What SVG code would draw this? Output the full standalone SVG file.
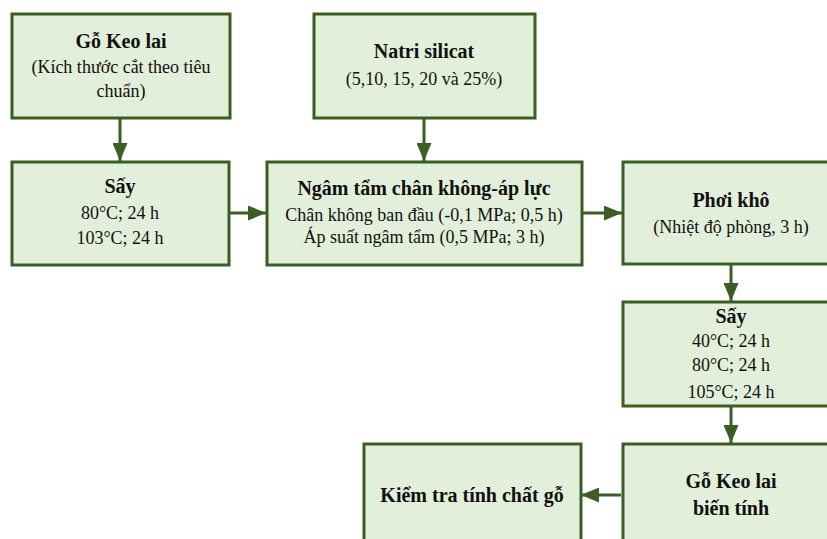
<svg xmlns="http://www.w3.org/2000/svg" width="827" height="539" viewBox="0 0 827 539">
<defs>
<style>
.box{fill:#e2efda;stroke:#3b5e25;stroke-width:3}
.t{font-family:"Liberation Serif","Times New Roman",serif;font-size:18px;fill:#111;text-anchor:middle}
.b{font-weight:bold;font-size:20px}
.c{stroke:#3b5e25;stroke-width:3;fill:none;marker-end:url(#ah)}
</style>
<marker id="ah" viewBox="0 0 12 10" refX="12" refY="5" markerWidth="6" markerHeight="5" markerUnits="strokeWidth" orient="auto">
<path d="M0,0 L12,5 L0,10 Z" fill="#3b5e25"/>
</marker>
</defs>
<rect width="827" height="539" fill="#fff"/>
<g id="connectors">
<line class="c" x1="120" y1="119" x2="120" y2="161"/>
<line class="c" x1="424" y1="119" x2="424" y2="161"/>
<line class="c" x1="230" y1="213" x2="266" y2="213"/>
<line class="c" x1="583" y1="213" x2="622" y2="213"/>
<line class="c" x1="731" y1="265" x2="731" y2="301"/>
<line class="c" x1="731" y1="407" x2="731" y2="443"/>
<line class="c" x1="621" y1="495" x2="581" y2="495"/>
</g>
<g id="n1">
<rect class="box" x="12" y="14" width="218" height="104"/>
<text class="t b" x="121" y="48">Gỗ Keo lai</text>
<text class="t" x="121" y="73">(Kích thước cắt theo tiêu</text>
<text class="t" x="121" y="97">chuẩn)</text>
</g>
<g id="n2">
<rect class="box" x="314" y="14" width="221" height="104"/>
<text class="t b" x="424" y="58">Natri silicat</text>
<text class="t" x="424" y="85">(5,10, 15, 20 và 25%)</text>
</g>
<g id="n3">
<rect class="box" x="12" y="162" width="217" height="103"/>
<text class="t b" x="120" y="193">Sấy</text>
<text class="t" x="120" y="219">80°C; 24 h</text>
<text class="t" x="120" y="244">103°C; 24 h</text>
</g>
<g id="n4">
<rect class="box" x="267" y="162" width="315" height="103"/>
<text class="t b" x="424" y="195">Ngâm tẩm chân không-áp lực</text>
<text class="t" x="424" y="221">Chân không ban đầu (-0,1 MPa; 0,5 h)</text>
<text class="t" x="424" y="243">Áp suất ngâm tẩm (0,5 MPa; 3 h)</text>
</g>
<g id="n5">
<rect class="box" x="623" y="162" width="220" height="102"/>
<text class="t b" x="731" y="207">Phơi khô</text>
<text class="t" x="731" y="233">(Nhiệt độ phòng, 3 h)</text>
</g>
<g id="n6">
<rect class="box" x="623" y="302" width="220" height="104"/>
<text class="t b" x="731" y="323">Sấy</text>
<text class="t" x="731" y="347">40°C; 24 h</text>
<text class="t" x="731" y="371">80°C; 24 h</text>
<text class="t" x="731" y="398">105°C; 24 h</text>
</g>
<g id="n7">
<rect class="box" x="623" y="444" width="220" height="110"/>
<text class="t b" x="731" y="488">Gỗ Keo lai</text>
<text class="t b" x="731" y="515">biến tính</text>
</g>
<g id="n8">
<rect class="box" x="364" y="444" width="217" height="110"/>
<text class="t b" x="472" y="502">Kiểm tra tính chất gỗ</text>
</g>
</svg>
